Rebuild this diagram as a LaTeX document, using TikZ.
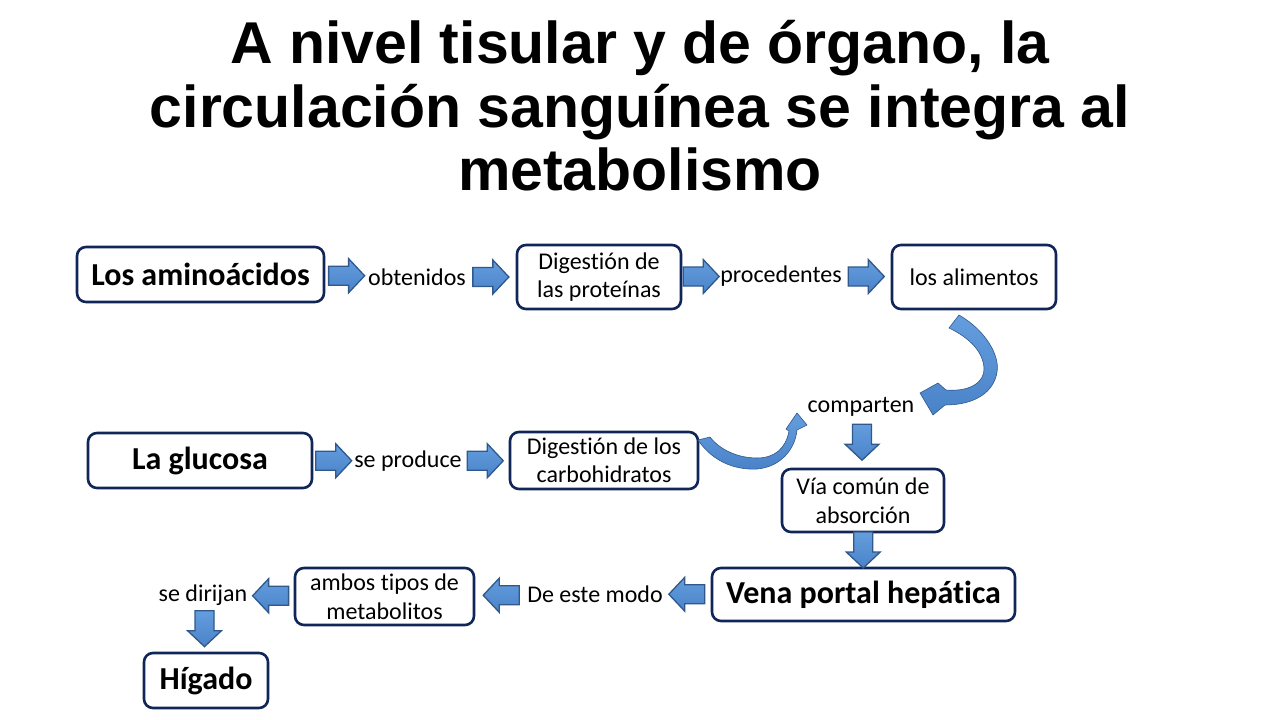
\documentclass[tikz,border=0pt]{standalone}
\usepackage{fontspec}
\setmainfont{Carlito}[Ligatures=NoCommon]
\newfontfamily\titlefont{Liberation Sans}
\usetikzlibrary{calc}
\definecolor{boxline}{RGB}{16,38,88}
\definecolor{arrtop}{RGB}{100,158,222}
\definecolor{arrbot}{RGB}{74,130,200}
\definecolor{arrline}{RGB}{48,88,138}
\tikzset{
 box/.style={draw=boxline, line width=2.6pt, rounded corners=9pt, fill=white, align=center, inner sep=2pt, font=\fontsize{24}{28.5}\selectfont},
 bigbox/.style={box, font=\bfseries\fontsize{32}{38}\selectfont},
 lbl/.style={inner sep=0pt, font=\fontsize{24}{28.5}\selectfont},
 ttl/.style={anchor=base, inner sep=0pt, font=\titlefont\bfseries\fontsize{59}{66}\selectfont},
 arrowbody/.style={top color=arrtop, bottom color=arrbot, draw=arrline, line width=1.3pt, line join=miter},
 barrow/.pic={\path[arrowbody] (-18,-9.5) -- (2,-9.5) -- (2,-17) -- (18,0) -- (2,17) -- (2,9.5) -- (-18,9.5) -- cycle;},
}
\begin{document}
\begin{tikzpicture}[x=1pt,y=-1pt]
\useasboundingbox (0,0) rectangle (1280,720);
% title
\node[ttl] (t1) at (640,63) {A nivel tisular y de órgano, la};
\node[ttl] (t2) at (640,127) {circulación sanguínea se integra al};
\node[ttl] (t3) at (640,190) {metabolismo};
% boxes
\node[bigbox, minimum width=247pt, minimum height=55pt] (aa) at (200.5,274.5) {Los aminoácidos};
\node[box, minimum width=164pt, minimum height=64pt] (prot) at (599,277) {Digestión de\\las proteínas};
\node[box, minimum width=164pt, minimum height=64pt] (alim) at (974,277) {los alimentos};
\node[bigbox, minimum width=224pt, minimum height=55pt] (gluc) at (200,460.5) {La glucosa};
\node[box, minimum width=188pt, minimum height=57pt] (carb) at (604,460.5) {Digestión de los\\carbohidratos};
\node[box, minimum width=162pt, minimum height=63pt] (via) at (863,500.5) {Vía común de\\absorción};
\node[bigbox, minimum width=303pt, minimum height=53pt] (vena) at (863.5,594.5) {Vena portal hepática};
\node[box, minimum width=179pt, minimum height=57pt] (ambos) at (384.5,596.5) {ambos tipos de\\metabolitos};
\node[bigbox, minimum width=124pt, minimum height=55pt] (hig) at (206,680.5) {Hígado};
% labels
\node[lbl] (obt) at (417,277) {obtenidos};
\node[lbl] (proc) at (781,276) {procedentes};
\node[lbl] (comp) at (861,407) {comparten};
\node[lbl] (sepr) at (408,461) {se produce};
\node[lbl] (modo) at (595,594) {De este modo};
\node[lbl] (dir) at (203,595) {se dirijan};
% block arrows
\pic at ($(aa.east)!0.5!(obt.west)$) {barrow};
\pic at ($(obt.east)!0.5!(prot.west)$) {barrow};
\pic at ($(prot.east)!0.5!(proc.west)$) {barrow};
\pic at ($(proc.east)!0.5!(alim.west)$) {barrow};
\pic at ($(gluc.east)!0.5!(sepr.west)$) {barrow};
\pic at ($(sepr.east)!0.5!(carb.west)$) {barrow};
\pic[rotate=-90] at ($(comp.south)!0.5!(via.north)$) {barrow};
\pic[rotate=-90] at ($(via.south)!0.5!(vena.north)$) {barrow};
\pic[rotate=180] at ($(vena.west)!0.5!(modo.east)$) {barrow};
\pic[rotate=180] at ($(modo.west)!0.5!(ambos.east)$) {barrow};
\pic[rotate=180] at ($(ambos.west)!0.5!(dir.east)$) {barrow};
\pic[rotate=-90] at ($(dir.south)!0.5!(hig.north)$) {barrow};
% curved arrows
\path[arrowbody, line width=0.6pt] (949,328) -- (959,315) .. controls (985,330) and (1000,355) .. (997,372) .. controls (994,392) and (975,405) .. (945,405) -- (933,415) -- (920,393) -- (938,383) -- (946,390) .. controls (970,392) and (985,382) .. (984,368) .. controls (983,352) and (970,338) .. cycle;
\path[arrowbody, line width=0.6pt] (698,440) .. controls (715,465) and (740,470) .. (757,469) .. controls (780,467) and (795,450) .. (797,430) -- (807,425) -- (797,413) -- (786,429) -- (789,431) .. controls (786,448) and (775,458) .. (757,458) .. controls (738,458) and (720,450) .. (710,437) -- cycle;
\end{tikzpicture}
\end{document}
